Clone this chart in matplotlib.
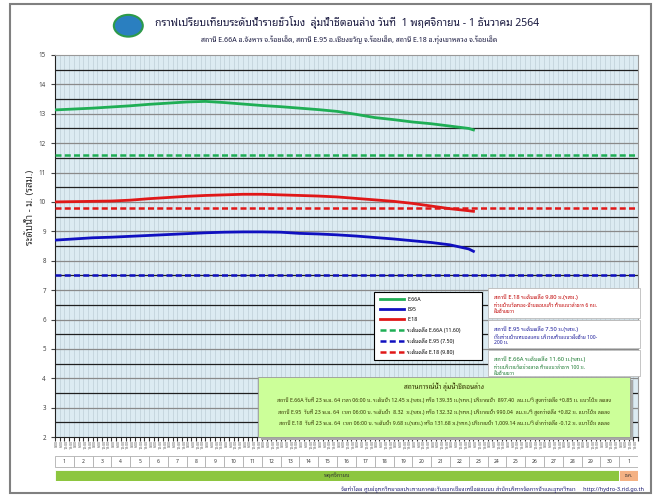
import numpy as np
import matplotlib
matplotlib.use('Agg')
import matplotlib.pyplot as plt
from matplotlib.patches import Rectangle, Circle

plt.rcParams['font.family'] = ['Noto Sans Thai Looped', 'DejaVu Sans']

# water levels, m (read at 00:00 of each day, last point 23 Nov 06:00)
days = [0, 1, 2, 3, 4, 5, 6, 7, 8, 9, 10, 11, 12, 13, 14, 15, 16, 17, 18, 19, 20, 21, 22, 22.25]
e66a = [13.13, 13.16, 13.19, 13.23, 13.27, 13.32, 13.36, 13.40, 13.42, 13.38, 13.33, 13.28,
        13.24, 13.19, 13.14, 13.08, 12.98, 12.87, 12.80, 12.72, 12.66, 12.58, 12.50, 12.45]
e95 = [8.70, 8.74, 8.78, 8.80, 8.83, 8.86, 8.89, 8.92, 8.95, 8.97, 8.98, 8.98,
       8.97, 8.93, 8.91, 8.88, 8.84, 8.79, 8.74, 8.68, 8.62, 8.54, 8.40, 8.32]
e18 = [10.00, 10.01, 10.02, 10.03, 10.06, 10.11, 10.15, 10.19, 10.22, 10.24, 10.26, 10.26,
       10.24, 10.22, 10.20, 10.17, 10.12, 10.07, 10.02, 9.95, 9.86, 9.77, 9.70, 9.68]
bank = {'E.66A': 11.60, 'E.95': 7.50, 'E.18': 9.80}

day_labels = [str(d) for d in range(1, 31)] + ['1']
hour_labels = ['0:00', '6:00', '12:00', '18:00']

green = '#1fae55'
blue = '#1010c0'
red = '#e01818'
dash = (0, (2.4, 1.3))

fig = plt.figure(figsize=(6.58, 4.95), dpi=100)
fig.patches.append(Rectangle((0.015, 0.005), 0.974, 0.987, transform=fig.transFigure,
                             fill=False, ec='#808080', lw=1.5))

ax = fig.add_axes([0.0836, 0.117, 0.886, 0.772])
ax.set_facecolor('#dcebf2')
ax.set_xlim(0, 31)
ax.set_ylim(2, 15)

# grid
for v in np.arange(2.5, 15, 0.5):
    ax.axhline(v, color='#8a8a8a' if v % 1 == 0 else '#202020', lw=0.9, zorder=1)
for xv in np.arange(0.25, 31, 0.25):
    ax.axvline(xv, color='#c4d4dc', lw=0.6, zorder=0.5)

ax.plot(days, e66a, color=green, lw=2, zorder=3, label='E.66A')
ax.plot(days, e95, color=blue, lw=2, zorder=3, label='E95')
ax.plot(days, e18, color=red, lw=2, zorder=3, label='E.18')
ax.axhline(bank['E.66A'], color=green, lw=1.8, ls=dash, zorder=3,
           label='ระดับตลิ่ง E.66A (11.60)')
ax.axhline(bank['E.95'], color=blue, lw=1.8, ls=dash, zorder=3,
           label='ระดับตลิ่ง E.95 (7.50)')
ax.axhline(bank['E.18'], color=red, lw=1.8, ls=dash, zorder=3,
           label='ระดับตลิ่ง E.18 (9.80)')

ax.set_yticks(range(2, 16))
ax.tick_params(axis='y', labelsize=4.5, colors='#444444', length=3)
xt = np.arange(0, 31, 0.25) + 0.125
ax.set_xticks(np.arange(0, 31.01, 0.25))
ax.set_xticks(xt, minor=True)
ax.set_xticklabels([])
ax.set_xticklabels([hour_labels[i % 4] for i in range(len(xt))], minor=True,
                   rotation=90, fontsize=2.6, color='#555555')
ax.tick_params(axis='x', which='major', length=3, color='#333333')
ax.tick_params(axis='x', which='minor', length=0, pad=2)
for s in ['left', 'bottom']:
    ax.spines[s].set_color('#222222')
for s in ['top', 'right']:
    ax.spines[s].set_color('#999999')

fig.text(0.046, 0.582, 'ระดับน้ำ - ม. (รสม.)', fontsize=7, color='#333333',
         rotation=90, ha='center', va='center')

leg = ax.legend(loc='upper left', bbox_to_anchor=(0.565, 0.277, 0.172, 0.139),
                bbox_transform=fig.transFigure, mode='expand',
                fontsize=3.8, handlelength=4.6, labelspacing=0.95, borderpad=1.0,
                handletextpad=0.6, fancybox=False, framealpha=1, edgecolor='black')
leg.get_frame().set_linewidth(0.8)
leg.set_zorder(6)

# right-hand notes
notes = [
    ('สถานี E.18 ระดับตลิ่ง 9.80 ม.(รสม.)',
     'ท่วมบ้านวัดทอง-บ้านดอนแก้ว ท้ายแนวลำธาร 6 กม.\nฝั่งซ้ายขวา', '#c00000', 0.418, 0.358),
    ('สถานี E.95 ระดับตลิ่ง 7.50 ม.(รสม.)',
     'เริ่มท่วมบ้านหนองแคน บริเวณท้ายแนวฝั่งซ้าย 100-\n200 ม.', '#1a1a9a', 0.354, 0.297),
    ('สถานี E.66A ระดับตลิ่ง 11.60 ม.(รสม.)',
     'ท่วมบริเวณวัดม่วงลาด ท้ายแนวลำธาร 100 ม.\nฝั่งซ้ายขวา', '#1a7a30', 0.293, 0.240),
]
for head, body, col, top, bot in notes:
    fig.patches.append(Rectangle((0.742, bot), 0.230, top - bot, transform=fig.transFigure,
                                 fc='white', ec='#bbbbbb', lw=0.6, zorder=5))
    fig.text(0.750, top - 0.012, head, fontsize=4.2, color=col, va='top', zorder=6)
    fig.text(0.750, top - 0.030, body, fontsize=3.6, color=col, va='top', linespacing=1.2, zorder=6)

# situation box
fig.patches.append(Rectangle((0.397, 0.112), 0.565, 0.120, transform=fig.transFigure,
                             fc='#a8a8a8', ec='none', zorder=4))
fig.patches.append(Rectangle((0.392, 0.118), 0.565, 0.120, transform=fig.transFigure,
                             fc='#ccff99', ec='#9a9a9a', lw=0.6, zorder=5))
fig.text(0.675, 0.218, 'สถานการณ์น้ำ ลุ่มน้ำชีตอนล่าง', fontsize=4.8, fontweight='bold',
         color='#333300', ha='center', va='center', zorder=6)
sit = [
    'สถานี E.66A วันที่ 23 พ.ย. 64 เวลา 06:00 น. ระดับน้ำ 12.45 ม.(รสม.) หรือ 139.35 ม.(รทก.) ปริมาณน้ำ  897.40  ลบ.ม./วิ สูงกว่าตลิ่ง +0.85 ม. แนวโน้ม ลดลง',
    'สถานี E.95  วันที่ 23 พ.ย. 64  เวลา 06:00 น. ระดับน้ำ  8.32  ม.(รสม.) หรือ 132.32 ม.(รทก.) ปริมาณน้ำ 990.04  ลบ.ม./วิ สูงกว่าตลิ่ง +0.82 ม. แนวโน้ม ลดลง',
    'สถานี E.18  วันที่ 23 พ.ย. 64  เวลา 06:00 น. ระดับน้ำ 9.68 ม.(รสม.) หรือ 131.68 ม.(รทก.) ปริมาณน้ำ 1,009.14 ลบ.ม./วิ ต่ำกว่าตลิ่ง -0.12 ม. แนวโน้ม ลดลง',
]
for i, s in enumerate(sit):
    fig.text(0.675, 0.193 - i * 0.024, s, fontsize=3.75, color='#333300',
             ha='center', va='center', zorder=6)

# day / month table under the chart
tb = fig.add_axes([0.0836, 0.028, 0.886, 0.051])
tb.set_xlim(0, 31)
tb.set_ylim(0, 2)
tb.axis('off')
for i, lab in enumerate(day_labels):
    tb.add_patch(Rectangle((i, 1.1), 1, 0.9, fc='white', ec='#b0b0b0', lw=0.6))
    tb.text(i + 0.5, 1.55, lab, fontsize=3.6, ha='center', va='center', color='#333333')
tb.add_patch(Rectangle((0, 0), 30, 0.9, fc='#8dc63f', ec='white', lw=0.6))
tb.add_patch(Rectangle((30, 0), 1, 0.9, fc='#f4b183', ec='white', lw=0.6))
tb.text(15, 0.45, 'พฤศจิกายน', fontsize=4, ha='center', va='center', color='#333333')
tb.text(30.5, 0.45, 'ธ.ค.', fontsize=3.4, ha='center', va='center', color='#333333')

# header
fig.patches.append(Circle((0.195, 0.948), 0.022, transform=fig.transFigure,
                          fc='#2a7fc0', ec='#2d9a4a', lw=1.5))
fig.text(0.235, 0.955, 'กราฟเปรียบเทียบระดับน้ำรายชั่วโมง  ลุ่มน้ำชีตอนล่าง วันที่  1 พฤศจิกายน - 1 ธันวาคม 2564',
         fontsize=7.5, color='#1a1a40', va='center')
fig.text(0.530, 0.920, 'สถานี E.66A อ.จังหาร จ.ร้อยเอ็ด, สถานี E.95 อ.เชียงขวัญ จ.ร้อยเอ็ด, สถานี E.18 อ.ทุ่งเขาหลวง จ.ร้อยเอ็ด',
         fontsize=5, color='#1a1a40', ha='center', va='center')

fig.text(0.978, 0.014, 'จัดทำโดย ศูนย์อุทกวิทยาชลประทานภาคตะวันออกเฉียงเหนือตอนบน สำนักบริหารจัดการน้ำและอุทกวิทยา     http://hydro-3.rid.go.th',
         fontsize=4, color='#1a1a70', ha='right', va='center')

fig.savefig('out.png', dpi=100)
